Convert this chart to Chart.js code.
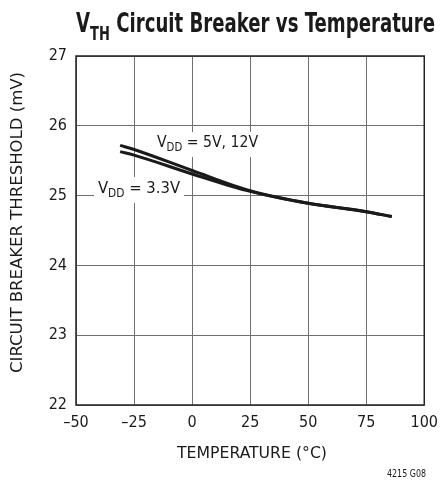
<!DOCTYPE html>
<html>
<head>
<meta charset="utf-8">
<script src="https://cdn.jsdelivr.net/npm/chart.js@4"></script>
<style>
html, body { margin: 0; padding: 0; background: #fff; }
#wrap { width: 446px; height: 491px; }
</style>
</head>
<body>
<div id="wrap"><canvas id="myChart" width="446" height="491"></canvas></div>
<script>
const temps = [-31, -25, 0, 25, 50, 75, 86];
const vth5v12v = [25.72, 25.66, 25.36, 25.07, 24.89, 24.77, 24.70];
const vth3v3 = [25.63, 25.58, 25.31, 25.06, 24.89, 24.77, 24.70];
const xTicks = [-50, -25, 0, 25, 50, 75, 100];
const yTicks = [22, 23, 24, 25, 26, 27];

const FONT = "'Liberation Sans Narrow', 'DejaVu Sans Condensed', 'Liberation Sans', sans-serif";

// draws text made of runs (normal / subscript), squeezed to a target width
function drawRuns(ctx, runs, x, y, size, weight, align, width) {
    ctx.save();
    const subSize = size * 0.72;
    let total = 0;
    runs.forEach(r => {
        ctx.font = weight + ' ' + (r.sub ? subSize : size) + 'px ' + FONT;
        r.w = ctx.measureText(r.t).width;
        total += r.w;
    });
    const sx = width ? width / total : 1;
    let start = x;
    if (align === 'center') start = x - total * sx / 2;
    if (align === 'right') start = x - total * sx;
    ctx.translate(start, y);
    ctx.scale(sx, 1);
    ctx.textBaseline = 'alphabetic';
    ctx.textAlign = 'left';
    ctx.fillStyle = '#1a1a1a';
    let cx = 0;
    runs.forEach(r => {
        ctx.font = weight + ' ' + (r.sub ? subSize : size) + 'px ' + FONT;
        ctx.fillText(r.t, cx, r.sub ? size * 0.28 : 0);
        cx += r.w;
    });
    ctx.restore();
}

const textPlugin = {
    id: 'textPlugin',
    beforeDatasetsDraw(chart) {
        const ctx = chart.ctx;
        const area = chart.chartArea;
        ctx.save();
        // label backgrounds hide grid lines
        ctx.fillStyle = '#fff';
        ctx.fillRect(148, 132, 117, 25);
        ctx.fillRect(94, 177, 90, 26);
        // frame
        ctx.strokeStyle = '#222';
        ctx.lineWidth = 1.5;
        ctx.strokeRect(area.left, area.top, area.right - area.left, area.bottom - area.top);
        ctx.restore();
        drawRuns(ctx, [{t: 'V'}, {t: 'DD', sub: true}, {t: ' = 5V, 12V'}], 157, 147, 16, 'normal', 'left', 101);
        drawRuns(ctx, [{t: 'V'}, {t: 'DD', sub: true}, {t: ' = 3.3V'}], 98, 193, 16, 'normal', 'left', 82);
    },
    afterDraw(chart) {
        const ctx = chart.ctx;
        drawRuns(ctx, [{t: 'V'}, {t: 'TH', sub: true}, {t: ' Circuit Breaker vs Temperature'}], 76, 32, 27, 'bold', 'left', 359);
        drawRuns(ctx, [{t: 'TEMPERATURE (°C)'}], 252, 458, 16, 'normal', 'center', 150);
        drawRuns(ctx, [{t: '4215 G08'}], 426, 477, 11, 'normal', 'right', 39);
        ctx.save();
        ctx.translate(22, 222.5);
        ctx.rotate(-Math.PI / 2);
        drawRuns(ctx, [{t: 'CIRCUIT BREAKER THRESHOLD (mV)'}], 0, 0, 16, 'normal', 'center', 301);
        ctx.restore();
    }
};

const ctx = document.getElementById('myChart').getContext('2d');

const data = {
    datasets: [{
        label: 'VDD = 5V, 12V',
        data: temps.map((t, i) => ({x: t, y: vth5v12v[i]})),
        borderColor: '#1a1a1a',
        borderWidth: 3,
        pointRadius: 0,
        cubicInterpolationMode: 'monotone'
    }, {
        label: 'VDD = 3.3V',
        data: temps.map((t, i) => ({x: t, y: vth3v3[i]})),
        borderColor: '#1a1a1a',
        borderWidth: 3,
        pointRadius: 0,
        cubicInterpolationMode: 'monotone'
    }]
};

const tickFont = {family: FONT, size: 16};

const config = {
    type: 'line',
    data: data,
    options: {
        animation: false,
        responsive: false,
        layout: { padding: { top: 56, right: 18, left: 0, bottom: 0 } },
        plugins: { legend: { display: false }, tooltip: { enabled: false } },
        scales: {
            x: {
                type: 'linear',
                min: -50,
                max: 100,
                afterFit: s => { s.height = 86; },
                afterBuildTicks: s => { s.ticks = xTicks.map(v => ({value: v})); },
                ticks: {
                    color: '#1a1a1a',
                    font: tickFont,
                    padding: 8,
                    maxRotation: 0,
                    callback: v => v < 0 ? '–' + Math.abs(v) : String(v)
                },
                grid: { color: '#707070', lineWidth: 1, drawTicks: false },
                border: { display: false }
            },
            y: {
                min: 22,
                max: 27,
                afterFit: s => { s.width = 76; },
                afterBuildTicks: s => { s.ticks = yTicks.map(v => ({value: v})); },
                ticks: { color: '#1a1a1a', font: tickFont, padding: 9 },
                grid: { color: '#707070', lineWidth: 1, drawTicks: false },
                border: { display: false }
            }
        }
    },
    plugins: [textPlugin]
};

const myChart = new Chart(ctx, config);
</script>
</body>
</html>
